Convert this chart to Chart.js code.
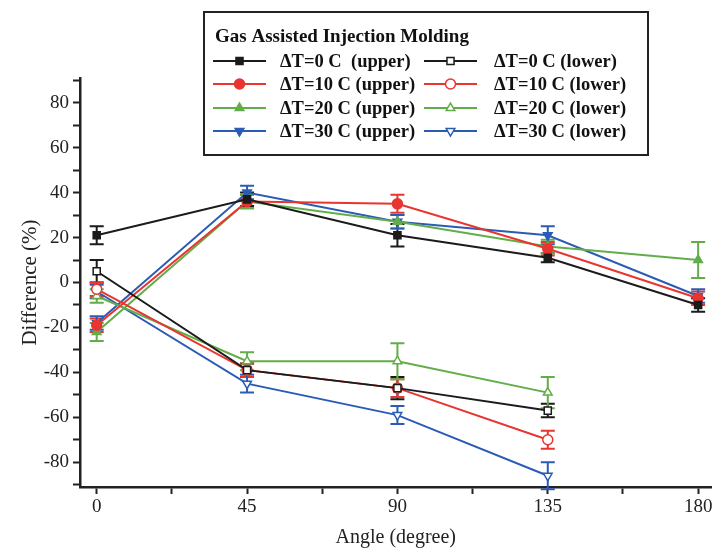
<!DOCTYPE html>
<html>
<head>
<meta charset="utf-8">
<script src="https://cdn.jsdelivr.net/npm/chart.js@4"></script>
<style>
html,body{margin:0;padding:0;background:#fff;}
#wrap{position:relative;width:718px;height:550px;}
</style>
</head>
<body>
<div id="wrap"><canvas id="c" width="718" height="550"></canvas></div>
<script>
// ---- data ----
const legendTitle = "Gas Assisted Injection Molding";
const anglesUpper = [0, 45, 90, 135, 180];
const anglesLower = [0, 45, 90, 135];
const xTickLabels = [0, 45, 90, 135, 180];
const yTickLabels = [-80, -60, -40, -20, 0, 20, 40, 60, 80];

const upper0  = [21, 37, 21, 11, -10];
const upper0Err  = [4, 3, 5, 2, 3];
const upper10 = [-19, 36, 35, 15, -7];
const upper10Err = [3, 3, 4, 3, 3];
const upper20 = [-22, 36, 27, 16, 10];
const upper20Err = [4, 3, 3, 3, 8];
const upper30 = [-18, 40, 27, 21, -6];
const upper30Err = [3, 3, 3, 4, 3];

const lower0  = [5, -39, -47, -57];
const lower0Err  = [5, 3, 5, 3];
const lower10 = [-3, -39, -47, -70];
const lower10Err = [3, 3, 4, 4];
const lower20 = [-6, -35, -35, -49];
const lower20Err = [3, 4, 8, 7];
const lower30 = [-4, -45, -59, -86];
const lower30Err = [3, 4, 4, 6];

const labels = [
  "ΔT=0 C  (upper)", "ΔT=0 C (lower)",
  "ΔT=10 C (upper)", "ΔT=10 C (lower)",
  "ΔT=20 C (upper)", "ΔT=20 C (lower)",
  "ΔT=30 C (upper)", "ΔT=30 C (lower)"
];

const BLACK = '#1b1b1b', RED = '#e8352f', GREEN = '#62ad4a', BLUE = '#2b5cb5';

function pts(xs, ys) { return xs.map((x, i) => ({x: x, y: ys[i]})); }

function ds(label, xs, ys, errs, color, style, rot, filled) {
  return {
    label: label,
    data: pts(xs, ys),
    errors: errs,
    borderColor: color,
    backgroundColor: filled ? color : '#ffffff',
    pointBackgroundColor: filled ? color : '#ffffff',
    pointBorderColor: color,
    pointStyle: style,
    pointRotation: rot,
    pointRadius: 5,
    pointBorderWidth: 1.5,
    borderWidth: 2,
    tension: 0,
    fill: false
  };
}

const datasets = [
  ds(labels[0], anglesUpper, upper0, upper0Err, BLACK, 'rect', 0, true),
  ds(labels[1], anglesLower, lower0, lower0Err, BLACK, 'rect', 0, false),
  ds(labels[2], anglesUpper, upper10, upper10Err, RED, 'circle', 0, true),
  ds(labels[3], anglesLower, lower10, lower10Err, RED, 'circle', 0, false),
  ds(labels[4], anglesUpper, upper20, upper20Err, GREEN, 'triangle', 0, true),
  ds(labels[5], anglesLower, lower20, lower20Err, GREEN, 'triangle', 0, false),
  ds(labels[6], anglesUpper, upper30, upper30Err, BLUE, 'triangle', 180, true),
  ds(labels[7], anglesLower, lower30, lower30Err, BLUE, 'triangle', 180, false)
];

const SERIF = '"Liberation Serif", "DejaVu Serif", serif';

// error bars drawn through the scales
const errorBars = {
  id: 'errorBars',
  beforeDatasetsDraw(chart) {
    const ctx = chart.ctx, xs = chart.scales.x, ys = chart.scales.y;
    ctx.save();
    chart.data.datasets.forEach(d => {
      ctx.strokeStyle = d.borderColor;
      ctx.lineWidth = 2;
      d.data.forEach((p, i) => {
        const e = d.errors[i];
        const px = xs.getPixelForValue(p.x);
        const top = ys.getPixelForValue(p.y + e);
        const bot = ys.getPixelForValue(p.y - e);
        ctx.beginPath();
        ctx.moveTo(px, top); ctx.lineTo(px, bot);
        ctx.moveTo(px - 7, top); ctx.lineTo(px + 7, top);
        ctx.moveTo(px - 7, bot); ctx.lineTo(px + 7, bot);
        ctx.stroke();
      });
    });
    ctx.restore();
  }
};

// legend box drawn inside the plot
const boxLegend = {
  id: 'boxLegend',
  afterDraw(chart) {
    const ctx = chart.ctx;
    const bx = 204, by = 12, bw = 444, bh = 143;
    ctx.save();
    ctx.fillStyle = '#ffffff';
    ctx.fillRect(bx, by, bw, bh);
    ctx.strokeStyle = '#222';
    ctx.lineWidth = 2;
    ctx.strokeRect(bx, by, bw, bh);
    ctx.fillStyle = '#111';
    ctx.textBaseline = 'middle';
    ctx.font = 'bold 19px ' + SERIF;
    ctx.fillText(legendTitle, 215, 37);
    const rowsY = [61, 84, 108, 131];
    const cols = [{l0: 213, l1: 266, t: 280}, {l0: 424, l1: 477, t: 494}];
    chart.data.datasets.forEach((d, i) => {
      const col = cols[i % 2], ry = rowsY[Math.floor(i / 2)];
      ctx.strokeStyle = d.borderColor;
      ctx.lineWidth = 2;
      ctx.beginPath();
      ctx.moveTo(col.l0, ry); ctx.lineTo(col.l1, ry);
      ctx.stroke();
      ctx.fillStyle = d.pointBackgroundColor;
      ctx.strokeStyle = d.pointBorderColor;
      ctx.lineWidth = 1.5;
      Chart.helpers.drawPoint(ctx, {pointStyle: d.pointStyle, rotation: d.pointRotation, radius: 5, borderWidth: 1.5}, (col.l0 + col.l1) / 2, ry);
      ctx.fillStyle = '#111';
      ctx.font = 'bold 18.5px ' + SERIF;
      ctx.fillText(d.label, col.t, ry + 1);
    });
    ctx.restore();
  }
};

new Chart(document.getElementById('c'), {
  type: 'line',
  data: { datasets: datasets },
  plugins: [errorBars, boxLegend],
  options: {
    responsive: false,
    animation: false,
    layout: { padding: { top: 78, right: 6, left: 18, bottom: 0 } },
    plugins: { legend: { display: false }, tooltip: { enabled: false } },
    scales: {
      x: {
        type: 'linear',
        min: -5, max: 184,
        afterBuildTicks(s) { const t = []; for (let v = 0; v <= 180; v += 22.5) t.push({value: v}); s.ticks = t; },
        afterFit(s) { s.height = 63; },
        ticks: {
          autoSkip: false, maxRotation: 0,
          color: '#222', font: { family: SERIF, size: 19 }, padding: 2,
          callback: v => (xTickLabels.includes(v) ? String(v) : '')
        },
        grid: { display: true, drawOnChartArea: false, drawTicks: true, tickLength: 7, tickColor: '#222', tickWidth: 2 },
        border: { display: true, color: '#222', width: 2.5 },
        title: { display: true, text: 'Angle (degree)', color: '#222', font: { family: SERIF, size: 20 }, padding: { top: 0, bottom: 0 } }
      },
      y: {
        type: 'linear',
        min: -91, max: 91,
        afterBuildTicks(s) { const t = []; for (let v = -90; v <= 90; v += 10) t.push({value: v}); s.ticks = t; },
        afterFit(s) { s.width = 62; },
        ticks: {
          autoSkip: false,
          color: '#222', font: { family: SERIF, size: 19 }, padding: 4,
          callback: v => (yTickLabels.includes(v) ? String(v) : '')
        },
        grid: { display: true, drawOnChartArea: false, drawTicks: true, tickLength: 7, tickColor: '#222', tickWidth: 2 },
        border: { display: true, color: '#222', width: 2.5 },
        title: { display: true, text: 'Difference (%)', color: '#222', font: { family: SERIF, size: 21 }, padding: { top: 0, bottom: 0 } }
      }
    }
  }
});
</script>
</body>
</html>
